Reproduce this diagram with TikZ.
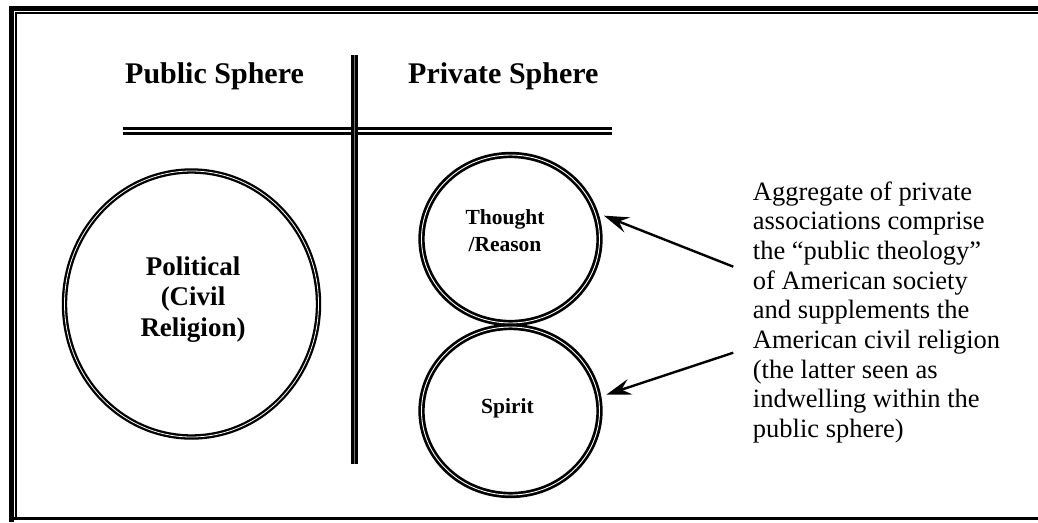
\documentclass[tikz,border=0pt]{standalone}
\usepackage{fontspec}
\setmainfont{Liberation Serif}
\usetikzlibrary{arrows.meta,shapes.geometric}
\begin{document}
\begin{tikzpicture}[x=1pt,y=-1pt,
  frameline/.style={draw=black,line cap=butt},
  ring/.style={ellipse,draw=black,line width=2.7pt,double=white,double distance=0.9pt,inner sep=0pt},
  bigring/.style={ellipse,draw=black,line width=2.3pt,double=white,double distance=0.8pt,inner sep=0pt},
  heading/.style={font=\bfseries\fontsize{30}{34}\selectfont,inner sep=0pt,anchor=base west},
  ringtext/.style={inner sep=0pt,anchor=base},
  arr/.style={line width=2.4pt,-{Stealth[length=25pt,width=16pt,inset=9pt]}}]
\useasboundingbox (0,0) rectangle (1038,522);
\fill[white] (0,0) rectangle (1038,522);
% frame
\draw[frameline,line width=5pt] (11.5,6) -- (11.5,522);
\draw[frameline,line width=1.7pt] (15.9,12) -- (15.9,517);
\draw[frameline,line width=5pt] (9,8.5) -- (1038,8.5);
\draw[frameline,line width=1.5pt] (15,12.8) -- (1038,12.8);
\draw[frameline,line width=3pt] (13,518.5) -- (1038,518.5);
% headings
\node[heading] (pub) at (125,83.3) {Public Sphere};
\node[heading] (priv) at (408,83.3) {Private Sphere};
% divider lines
\coordinate (hl) at (122.7,131);
\coordinate (hr) at (611.7,131);
\coordinate (vt) at (354.5,55);
\coordinate (vb) at (354.5,464);
\draw[line width=2.9pt,double=white,double distance=1.6pt] (hl) -- (hr);
\draw[line width=3pt,double=black!55,double distance=1.6pt] (vt) -- (vb);
% circles
\node[bigring,minimum width=254pt,minimum height=266pt] (pol) at (191.5,304) {};
\node[ring,minimum width=178pt,minimum height=168pt] (th) at (510.5,239) {};
\node[ring,minimum width=178pt,minimum height=168pt] (sp) at (510.5,411) {};
% circle texts
\node[ringtext] (poltxt) at (193,275) {\parbox[t]{200pt}{\centering\bfseries\fontsize{27}{30.5}\selectfont Political\\(Civil\\Religion)}};
\node[ringtext] (thtxt) at (505,224) {\parbox[t]{150pt}{\centering\bfseries\fontsize{21.5}{27}\selectfont Thought\\/Reason}};
\node[ringtext] (sptxt) at (507.5,413) {\bfseries\fontsize{21.5}{27}\selectfont Spirit};
% explanatory text
\node[inner sep=0pt,anchor=base west] (note) at (752.7,200) {\parbox[t]{285pt}{\raggedright\fontsize{26.5}{29.7}\selectfont Aggregate of private\\associations comprise\\the “public theology”\\of American society\\and supplements the\\American civil religion\\(the latter seen as\\indwelling within the\\public sphere)}};
% arrows
\coordinate (a1) at (733.3,266.7);
\coordinate (a2) at (733.3,352.7);
\draw[arr,shorten >=8pt] (a1) -- (th.17);
\draw[arr,shorten >=7pt] (a2) -- (sp.9);
\end{tikzpicture}
\end{document}
